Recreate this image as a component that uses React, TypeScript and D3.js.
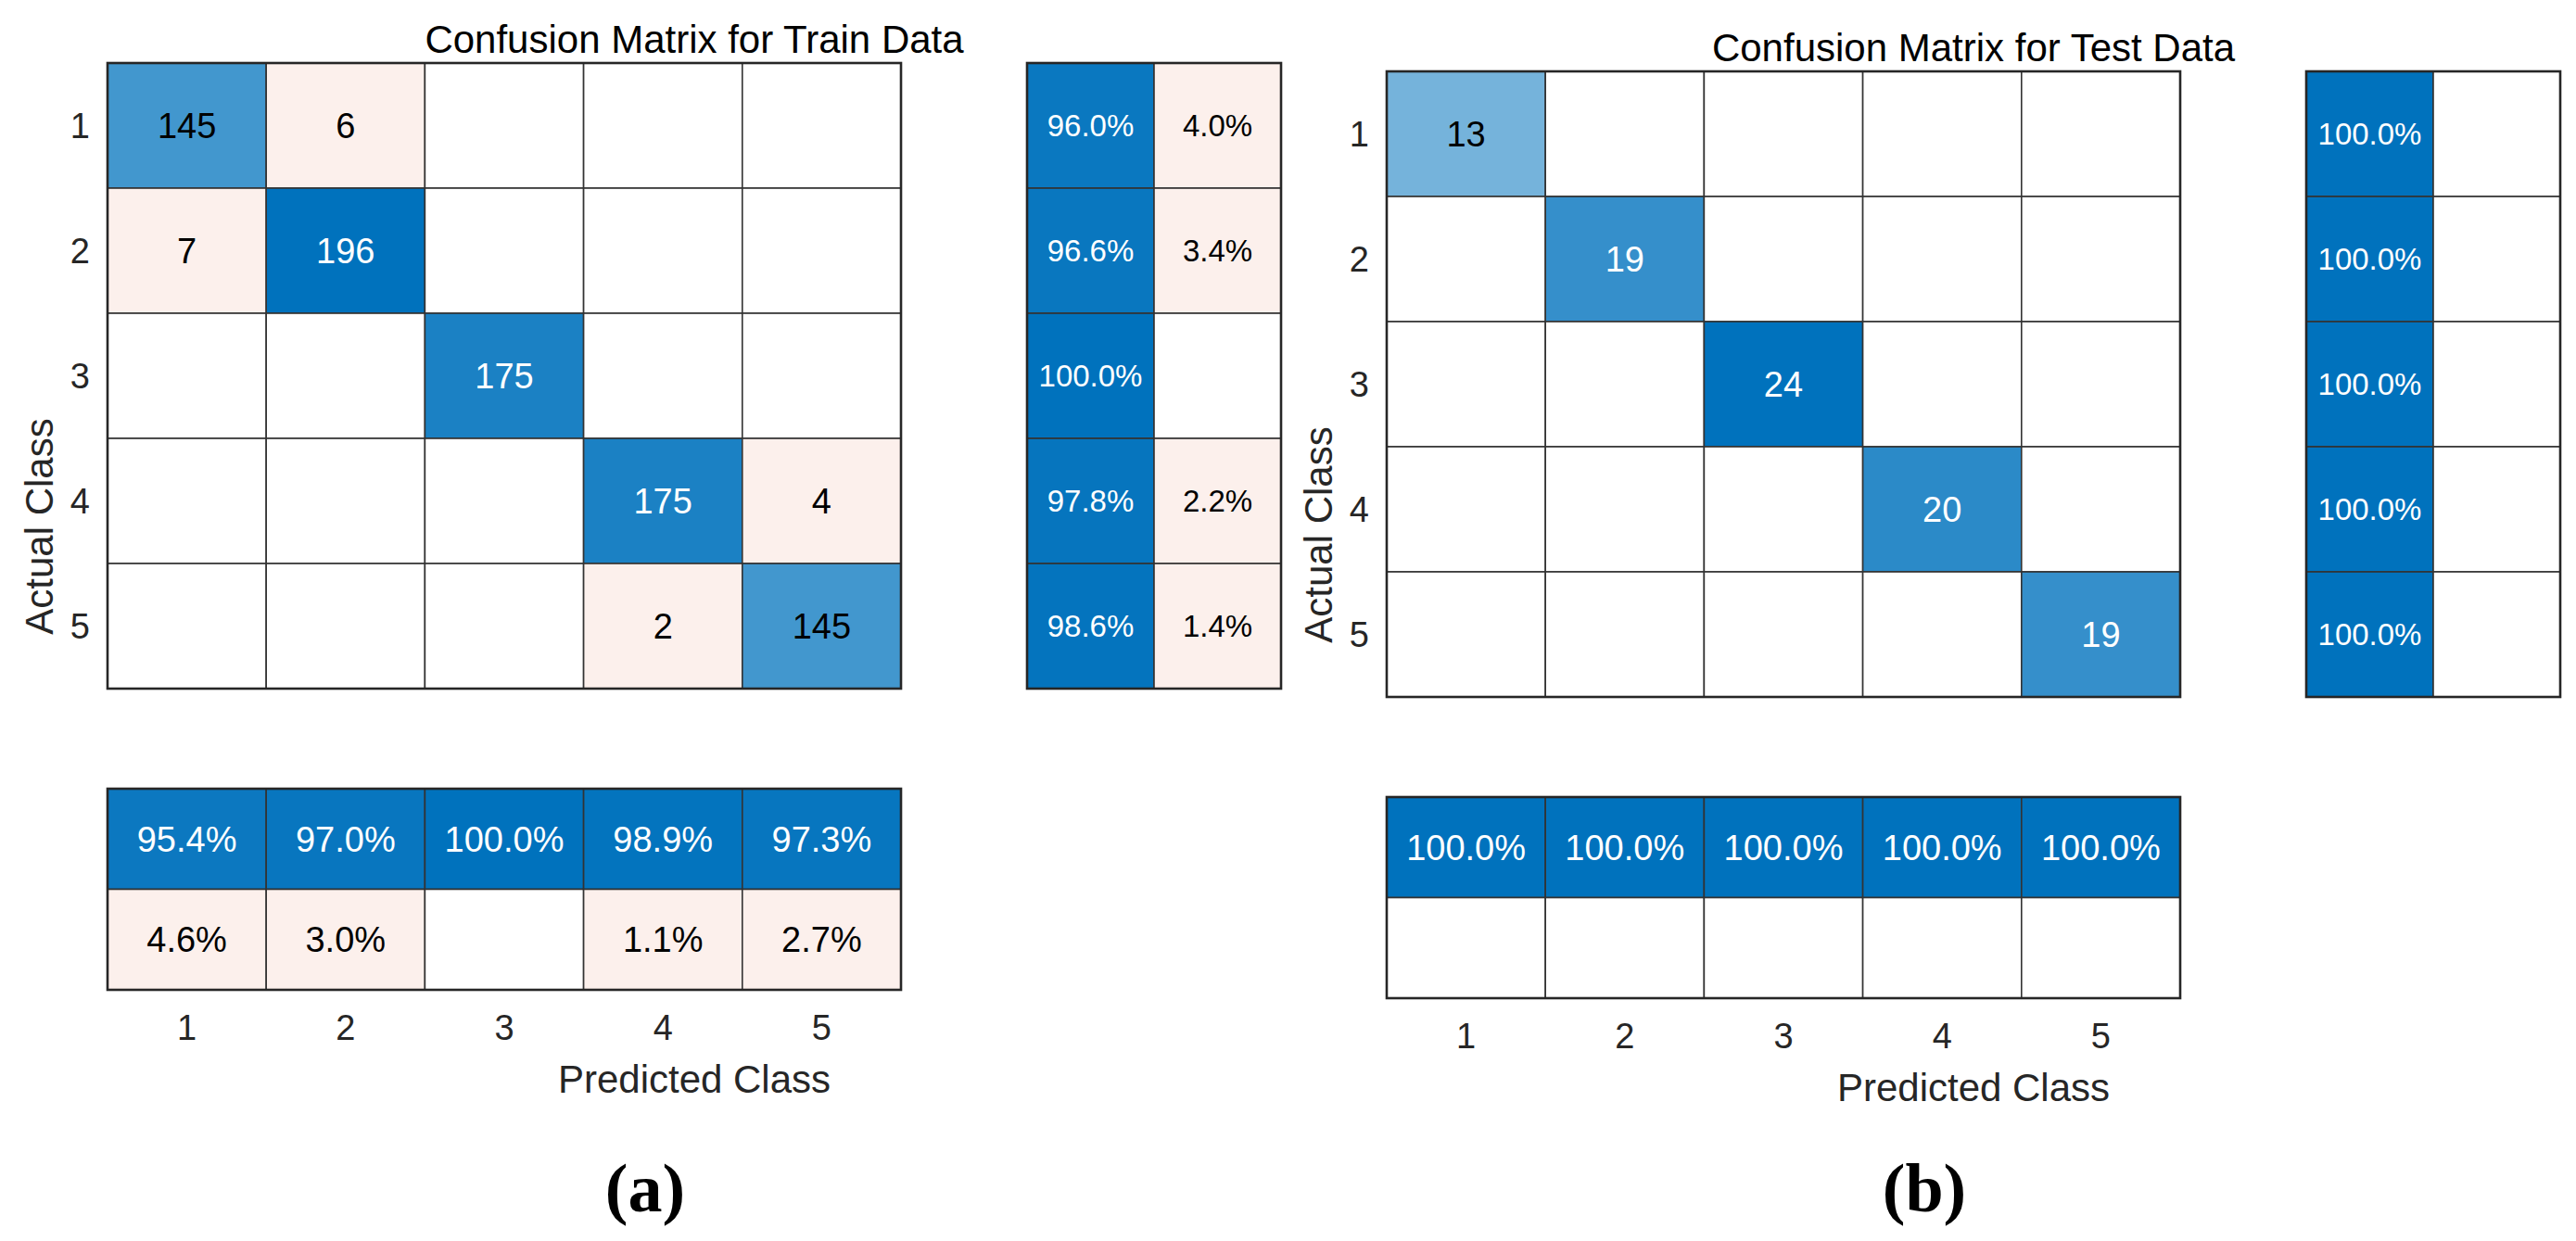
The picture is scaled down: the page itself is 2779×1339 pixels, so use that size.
import * as d3 from 'd3'

const classes = ['1', '2', '3', '4', '5']
const summaryCols = ['correct', 'wrong']

const trainCounts = [
  [145, 6, 0, 0, 0],
  [7, 196, 0, 0, 0],
  [0, 0, 175, 0, 0],
  [0, 0, 0, 175, 4],
  [0, 0, 0, 2, 145],
]
const trainRowCorrect = [96.0, 96.6, 100.0, 97.8, 98.6]
const trainRowWrong = [4.0, 3.4, 0, 2.2, 1.4]
const trainColCorrect = [95.4, 97.0, 100.0, 98.9, 97.3]
const trainColWrong = [4.6, 3.0, 0, 1.1, 2.7]

const testCounts = [
  [13, 0, 0, 0, 0],
  [0, 19, 0, 0, 0],
  [0, 0, 24, 0, 0],
  [0, 0, 0, 20, 0],
  [0, 0, 0, 0, 19],
]
const testRowCorrect = [100.0, 100.0, 100.0, 100.0, 100.0]
const testRowWrong = [0, 0, 0, 0, 0]
const testColCorrect = [100.0, 100.0, 100.0, 100.0, 100.0]
const testColWrong = [0, 0, 0, 0, 0]

const W = 2779
const H = 1339
const SANS = '"Liberation Sans", Arial, Helvetica, sans-serif'
const SERIF = '"Liberation Serif", "Times New Roman", serif'
const BLUE = '#0072BD'
const PALE = '#FCF0EC'
const INK = '#262626'

const blue = d3.interpolateRgb('#ffffff', BLUE)

function Cell({
  x,
  y,
  w,
  h,
  fill,
  label,
  dark,
  fontSize,
}: {
  x: number
  y: number
  w: number
  h: number
  fill: string
  label: string
  dark: boolean
  fontSize: number
}) {
  return (
    <g>
      <rect x={x} y={y} width={w} height={h} fill={fill} stroke="#333333" strokeWidth={1.6} />
      {label && (
        <text
          x={x + w / 2}
          y={y + h / 2}
          dy="0.36em"
          textAnchor="middle"
          fontSize={fontSize}
          fill={dark ? '#ffffff' : '#000000'}
        >
          {label}
        </text>
      )}
    </g>
  )
}

function Panel({
  x0,
  y0,
  title,
  counts,
  rowCorrect,
  rowWrong,
  colCorrect,
  colWrong,
}: {
  x0: number
  y0: number
  title: string
  counts: number[][]
  rowCorrect: number[]
  rowWrong: number[]
  colCorrect: number[]
  colWrong: number[]
}) {
  const matW = 856
  const matH = 675
  const x = d3.scaleBand().domain(classes).range([x0, x0 + matW])
  const y = d3.scaleBand().domain(classes).range([y0, y0 + matH])
  const rx = d3.scaleBand().domain(summaryCols).range([x0 + 992, x0 + 1266])
  const cy = d3.scaleBand().domain(summaryCols).range([y0 + 783, y0 + 1000])
  const maxCount = d3.max(counts.flat()) ?? 1
  const t = d3.scaleLinear().domain([0, maxCount]).range([0, 1])
  const pct = (v: number) => `${v.toFixed(1)}%`
  const cx = (x0 + x0 + 1266) / 2

  return (
    <g fontFamily={SANS}>
      <text x={cx} y={y0 - 11} textAnchor="middle" fontSize={42} fill="#000">
        {title}
      </text>

      {counts.map((row, i) =>
        row.map((v, j) => {
          const diag = i === j
          const k = t(v)
          const fill = v === 0 ? '#ffffff' : diag ? blue(k) : PALE
          return (
            <Cell
              key={`${i}-${j}`}
              x={x(classes[j])!}
              y={y(classes[i])!}
              w={x.bandwidth()}
              h={y.bandwidth()}
              fill={fill}
              label={v === 0 ? '' : String(v)}
              dark={diag && k > 0.76}
              fontSize={38}
            />
          )
        }),
      )}
      <rect x={x0} y={y0} width={matW} height={matH} fill="none" stroke={INK} strokeWidth={2.6} />

      {classes.map((c, i) => (
        <g key={`r${c}`}>
          <Cell
            x={rx('correct')!}
            y={y(c)!}
            w={rx.bandwidth()}
            h={y.bandwidth()}
            fill={rowCorrect[i] === 0 ? '#fff' : blue(rowCorrect[i] / 100)}
            label={rowCorrect[i] === 0 ? '' : pct(rowCorrect[i])}
            dark={rowCorrect[i] > 76}
            fontSize={33}
          />
          <Cell
            x={rx('wrong')!}
            y={y(c)!}
            w={rx.bandwidth()}
            h={y.bandwidth()}
            fill={rowWrong[i] === 0 ? '#fff' : PALE}
            label={rowWrong[i] === 0 ? '' : pct(rowWrong[i])}
            dark={false}
            fontSize={33}
          />
        </g>
      ))}
      <rect
        x={x0 + 992}
        y={y0}
        width={274}
        height={matH}
        fill="none"
        stroke={INK}
        strokeWidth={2.6}
      />

      {classes.map((c, j) => (
        <g key={`c${c}`}>
          <Cell
            x={x(c)!}
            y={cy('correct')!}
            w={x.bandwidth()}
            h={cy.bandwidth()}
            fill={colCorrect[j] === 0 ? '#fff' : blue(colCorrect[j] / 100)}
            label={colCorrect[j] === 0 ? '' : pct(colCorrect[j])}
            dark={colCorrect[j] > 76}
            fontSize={38}
          />
          <Cell
            x={x(c)!}
            y={cy('wrong')!}
            w={x.bandwidth()}
            h={cy.bandwidth()}
            fill={colWrong[j] === 0 ? '#fff' : PALE}
            label={colWrong[j] === 0 ? '' : pct(colWrong[j])}
            dark={false}
            fontSize={38}
          />
        </g>
      ))}
      <rect
        x={x0}
        y={y0 + 783}
        width={matW}
        height={217}
        fill="none"
        stroke={INK}
        strokeWidth={2.6}
      />

      {classes.map((c) => (
        <text
          key={`yt${c}`}
          x={x0 - 19}
          y={y(c)! + y.bandwidth() / 2}
          dy="0.36em"
          textAnchor="end"
          fontSize={38}
          fill={INK}
        >
          {c}
        </text>
      ))}
      {classes.map((c) => (
        <text
          key={`xt${c}`}
          x={x(c)! + x.bandwidth() / 2}
          y={y0 + 1040}
          dy="0.36em"
          textAnchor="middle"
          fontSize={38}
          fill={INK}
        >
          {c}
        </text>
      ))}

      <text x={cx} y={y0 + 1111} textAnchor="middle" fontSize={42} fill={INK}>
        Predicted Class
      </text>
      <text
        transform={`translate(${x0 - 59},${y0 + 500}) rotate(-90)`}
        textAnchor="middle"
        fontSize={42}
        fill={INK}
      >
        Actual Class
      </text>
    </g>
  )
}

export default function App() {
  return (
    <div style={{ position: 'absolute', left: 0, top: 0, background: '#fff' }}>
      <svg width={W} height={H} viewBox={`0 0 ${W} ${H}`} style={{ display: 'block' }}>
        <rect width={W} height={H} fill="#ffffff" />
        <Panel
          x0={116}
          y0={68}
          title="Confusion Matrix for Train Data"
          counts={trainCounts}
          rowCorrect={trainRowCorrect}
          rowWrong={trainRowWrong}
          colCorrect={trainColCorrect}
          colWrong={trainColWrong}
        />
        <Panel
          x0={1496}
          y0={77}
          title="Confusion Matrix for Test Data"
          counts={testCounts}
          rowCorrect={testRowCorrect}
          rowWrong={testRowWrong}
          colCorrect={testColCorrect}
          colWrong={testColWrong}
        />
        <text x={696} y={1307} textAnchor="middle" fontFamily={SERIF} fontWeight="bold" fontSize={74}>
          (a)
        </text>
        <text x={2076} y={1307} textAnchor="middle" fontFamily={SERIF} fontWeight="bold" fontSize={74}>
          (b)
        </text>
      </svg>
    </div>
  )
}
